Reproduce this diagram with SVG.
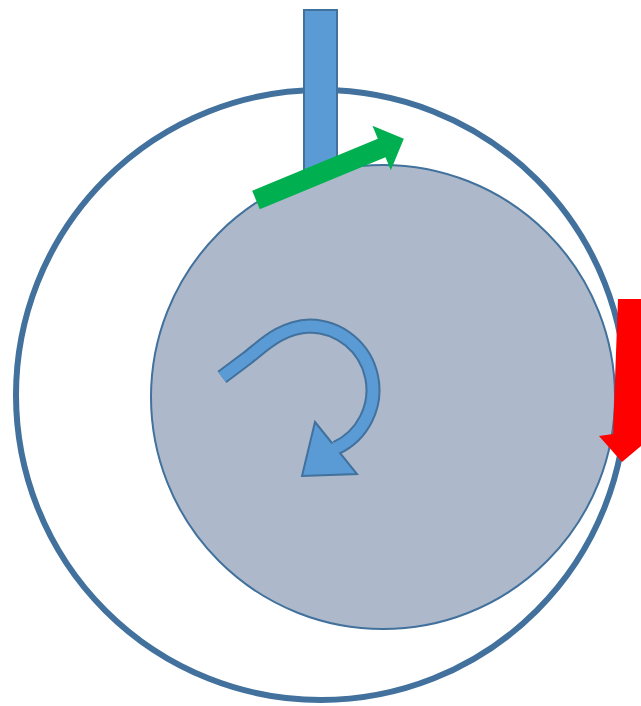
<svg xmlns="http://www.w3.org/2000/svg" width="641" height="706" viewBox="0 0 641 706">
<style>
.outline{stroke:#41719c}
.blue{fill:#5b9bd5}
</style>
<rect width="641" height="706" fill="#ffffff"/>
<g id="outer-ring">
<circle cx="321" cy="395" r="305" fill="#ffffff" stroke="#41719c" stroke-width="6"/>
</g>
<g id="inner-disc">
<circle cx="383" cy="397" r="232" fill="#adb9ca" stroke="#41719c" stroke-width="2"/>
</g>
<g id="rod">
<rect x="304" y="10" width="33" height="165" class="blue outline" stroke-width="2"/>
</g>
<g id="connectors">
<g id="green-arrow">
<polygon points="0,-10 136,-10 136,-24 160,0 136,24 136,10 0,10" fill="#00b050" transform="translate(256,200) rotate(-22.5)"/>
</g>
<g id="rotation-arrow">
<path d="M222,377 L246,359 C262,347 280,327 310,326 A64,64 0 0 1 336,448" fill="none" stroke="#41719c" stroke-width="15"/>
<polygon points="315,422 357,474 302,476" class="blue outline" stroke-width="2" stroke-linejoin="miter"/>
<path d="M222,377 L246,359 C262,347 280,327 310,326 A64,64 0 0 1 336,448 L332,450" fill="none" stroke="#5b9bd5" stroke-width="11"/>
</g>
<g id="red-arrow">
<polygon points="618,299 646,299 641,434 655,434 622,462 599,436 613,434" fill="#ff0000"/>
</g>
</g>
</svg>
